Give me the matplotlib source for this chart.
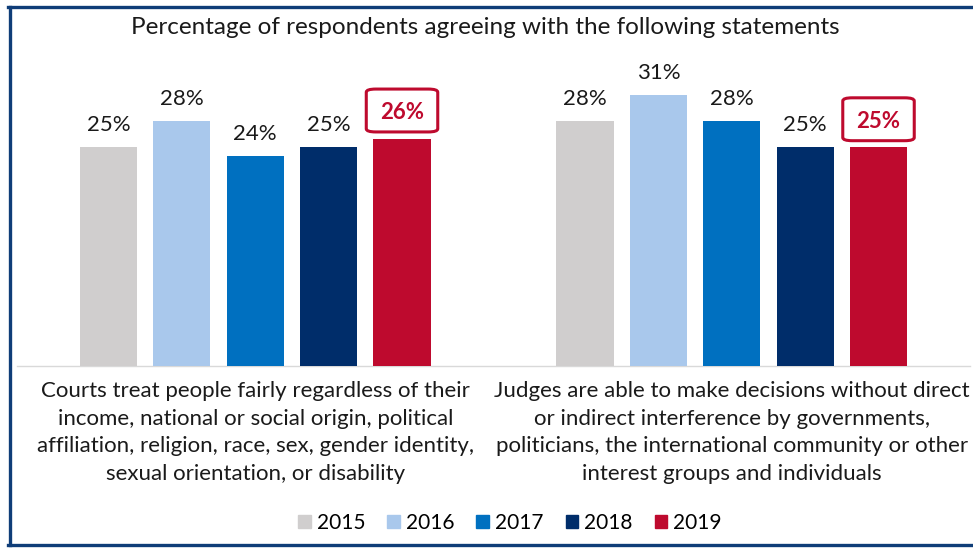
import matplotlib
matplotlib.use("Agg")
import matplotlib.pyplot as plt
from matplotlib.patches import FancyBboxPatch
from matplotlib.lines import Line2D

plt.rcParams['font.family'] = ['Lato', 'DejaVu Sans']

# Data
years = ['2015', '2016', '2017', '2018', '2019']
statements = [
    "Courts treat people fairly regardless of their\nincome, national or social origin, political\naffiliation, religion, race, sex, gender identity,\nsexual orientation, or disability",
    "Judges are able to make decisions without direct\nor indirect interference by governments,\npoliticians, the international community or other\ninterest groups and individuals",
]
values = {
    '2015': [25, 28],
    '2016': [28, 31],
    '2017': [24, 28],
    '2018': [25, 25],
    '2019': [26, 25],
}
colors = ['#D0CECE', '#A9C8EC', '#0070C0', '#002D6A', '#BE0A2E']
title = "Percentage of respondents agreeing with the following statements"

W, H = 973, 548
fig = plt.figure(figsize=(W / 100, H / 100), dpi=100)

# axes placed in pixel terms: baseline at y=366, 8.75 px per percentage point
ax_left, ax_right = 17, 970
base_y = 366
ymax = 35
px_per = 8.75
ax = fig.add_axes([ax_left / W, (H - base_y) / H,
                   (ax_right - ax_left) / W, ymax * px_per / H])

bar_w = 0.12
step = 0.154
n = len(years)
for i, (yr, col) in enumerate(zip(years, colors)):
    xs = [g + (i - (n - 1) / 2) * step for g in range(len(statements))]
    vals = values[yr]
    ax.bar(xs, vals, width=bar_w, color=col, zorder=2)
    for x, v in zip(xs, vals):
        if yr == '2019':
            ax.text(x, v + 2.25, f"{v}%", ha='center', va='baseline',
                    fontsize=16, fontweight='bold', color=col, zorder=4)
            bw, bh = 0.15, 4.9
            cy = v + 3.2
            box = FancyBboxPatch((x - bw / 2, cy - bh / 2), bw, bh,
                                 boxstyle="round,pad=0,rounding_size=0.02",
                                 mutation_aspect=bh / bw * 0.55,
                                 facecolor='white', edgecolor=col,
                                 linewidth=2.2, zorder=3)
            ax.add_patch(box)
        else:
            ax.text(x, v + 1.85, f"{v}%", ha='center', va='baseline',
                    fontsize=16, color='#1a1a1a', zorder=4)

ax.set_xlim(-0.5, 1.5)
ax.set_ylim(0, ymax)
ax.set_xticks([])
ax.set_yticks([])
for s in ['top', 'right', 'left']:
    ax.spines[s].set_visible(False)
ax.spines['bottom'].set_color('#D9D9D9')
ax.spines['bottom'].set_linewidth(1)
ax.spines['bottom'].set_zorder(1)

# category labels under the axis
for g, lab in enumerate(statements):
    ax.text(g, -1.75, lab, ha='center', va='top', fontsize=16,
            color='#1a1a1a', linespacing=1.47)

fig.text(485 / W, 1 - 27 / H, title, ha='center', va='center',
         fontsize=17.5, color='#1a1a1a')

# legend
handles = [plt.Rectangle((0, 0), 1, 1, color=c) for c in colors]
fig.legend(handles, years, loc='center', bbox_to_anchor=(510 / W, 1 - 523 / H),
           ncol=5, frameon=False, fontsize=15, handlelength=0.6,
           handleheight=0.6, handletextpad=0.3, columnspacing=1.05)

# frame
frame_col = '#0F3D78'
fig.add_artist(Line2D([9.5 / W, 9.5 / W], [1 - 6.5 / H, 1 - 544.5 / H],
                      transform=fig.transFigure, color=frame_col, lw=2.4))
fig.add_artist(Line2D([8 / W, 1.0], [1 - 6.5 / H, 1 - 6.5 / H],
                      transform=fig.transFigure, color=frame_col, lw=2.4))
fig.add_artist(Line2D([8 / W, 1.0], [1 - 544.5 / H, 1 - 544.5 / H],
                      transform=fig.transFigure, color=frame_col, lw=2.4))

fig.savefig("out.png", dpi=100)
